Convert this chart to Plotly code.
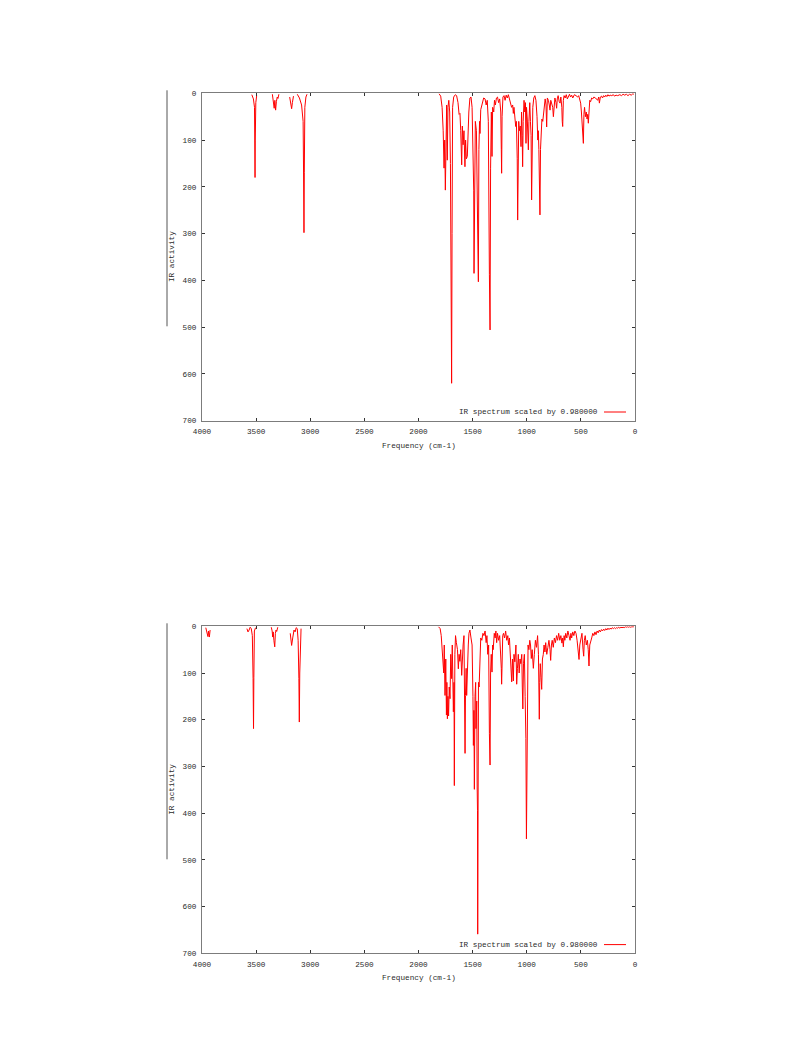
import plotly.graph_objects as go

# ---------------- data ----------------
# None marks stretches where the spectrum lies on the top border (no signal).
freq_top = [4000, 3560, 3540, 3525, 3515, 3512, 3510, 3508, 3503, 3495, 3485,
            3405, 3400, 3395,
            3350, 3340, 3333, 3327, 3320, 3313, 3305, 3298, 3290, 3280,
            3200, 3190, 3180, 3172, 3165, 3155, 3140,
            3120, 3100, 3080, 3066, 3062, 3058, 3055, 3050, 3040, 3030, 3015,
            1830, 1810, 1795, 1782, 1772, 1764, 1758, 1752, 1746, 1740, 1734, 1728, 1720, 1712,
            1705, 1700, 1697, 1694, 1690, 1685, 1675, 1660, 1648, 1635, 1625, 1617, 1610, 1601,
            1595, 1588, 1580, 1571, 1565, 1558, 1549, 1543, 1535, 1525, 1515, 1505, 1495, 1490,
            1487, 1482, 1475, 1465, 1458, 1452, 1447, 1442, 1436, 1432, 1425, 1410, 1398, 1385,
            1375, 1365, 1355, 1345, 1339, 1334, 1327, 1321, 1315, 1305, 1298, 1290, 1280, 1270,
            1260, 1250, 1240, 1235, 1232, 1228, 1220, 1210, 1200, 1190, 1180, 1170, 1160, 1150,
            1140, 1130, 1124, 1118, 1110, 1102, 1096, 1088, 1084, 1080, 1074, 1068, 1060, 1053,
            1048, 1042, 1038, 1033, 1025, 1018, 1012, 1007, 1002, 995, 985, 980, 972, 966,
            960, 955, 950, 944, 935, 925, 915, 905, 898, 893, 888, 882, 878, 873,
            866, 860, 852, 845, 838, 830, 822, 816, 810, 800, 792, 785, 778, 770,
            760, 754, 748, 740, 730, 724, 718, 710, 700, 692, 685, 676, 672, 668,
            662, 655, 645, 635, 625, 615, 605, 595, 585, 575, 560, 545, 530, 520,
            510, 502, 495, 488, 482, 477, 472, 466, 458, 450, 443, 437, 431, 425,
            418, 410, 400, 390, 380, 365, 345, 335, 329, 320, 310, 300, 290, 280,
            270, 260, 250, 240, 230, 215, 200, 190, 175, 160, 140, 125, 110, 95,
            80, 65, 50, 35, 20, 10, 0]
ir_top = [None, None, 3, 12, 30, 115, 180, 100, 20, 5, None,
          None, 2, None,
          2, 25, 32, 15, 36, 18, 8, 11, 2, None,
          None, 8, 25, 33, 20, 6, None,
          2, 10, 25, 60, 164, 298, 170, 30, 8, 2, None,
          None, 1, 6, 30, 80, 160, 100, 207, 60, 25, 143, 30, 15, 40,
          150, 342, 470, 620, 300, 30, 8, 3, 5, 20, 45, 43, 80, 153,
          70, 110, 80, 157, 100, 140, 135, 80, 40, 10, 8, 30, 120, 207,
          385, 150, 60, 80, 200, 250, 403, 120, 60, 86, 35, 20, 10, 12,
          25, 15, 60, 388, 506, 160, 40, 135, 30, 40, 15, 25, 10, 8,
          20, 12, 40, 120, 171, 50, 8, 5, 15, 4, 10, 3, 12, 20,
          30, 25, 43, 30, 55, 71, 60, 140, 271, 100, 60, 80, 70, 114,
          40, 90, 157, 60, 15, 40, 20, 107, 30, 55, 121, 60, 20, 60,
          90, 228, 80, 30, 10, 5, 15, 50, 100, 80, 120, 200, 260, 120,
          70, 55, 60, 40, 30, 12, 25, 72, 10, 15, 25, 36, 15, 20,
          30, 50, 20, 10, 20, 32, 12, 5, 18, 21, 8, 30, 60, 71,
          15, 5, 10, 3, 12, 5, 2, 8, 4, 10, 3, 5, 8, 5,
          15, 21, 40, 60, 80, 107, 45, 30, 50, 40, 55, 45, 64, 30,
          15, 18, 10, 12, 8, 10, 15, 8, 21, 8, 6, 10, 5, 8,
          4, 7, 3, 6, 4, 5, 3, 6, 4, 5, 3, 5, 2, 4,
          2, 5, 2, 4, 1, 2, None]

freq_bottom = [4000, 3975, 3965, 3955, 3945, 3940, 3932, 3925, 3918,
               3600, 3585, 3575, 3565, 3555, 3545, 3535, 3528, 3524, 3521, 3516, 3505, 3495,
               3405, 3400, 3395,
               3360, 3352, 3347, 3342, 3336, 3328, 3322, 3316, 3310, 3300, 3290,
               3200, 3185, 3172, 3162, 3150, 3140, 3130, 3120, 3112, 3105, 3101, 3097, 3092, 3085, 3078,
               1830, 1815, 1800, 1790, 1780, 1772, 1767, 1762, 1755, 1748, 1742, 1738, 1733, 1728,
               1722, 1716, 1709, 1702, 1694, 1688, 1678, 1672, 1669, 1664, 1658, 1650, 1640, 1632,
               1625, 1618, 1610, 1601, 1595, 1588, 1580, 1574, 1570, 1566, 1560, 1555, 1548, 1540,
               1534, 1525, 1515, 1505, 1497, 1493, 1488, 1484, 1478, 1472, 1469, 1462, 1458, 1455,
               1453, 1450, 1446, 1440, 1432, 1425, 1415, 1405, 1395, 1385, 1375, 1368, 1360, 1352,
               1345, 1339, 1334, 1328, 1321, 1315, 1310, 1300, 1292, 1285, 1278, 1270, 1260, 1250,
               1240, 1235, 1232, 1228, 1222, 1215, 1205, 1195, 1185, 1175, 1168, 1160, 1150, 1139,
               1132, 1124, 1118, 1110, 1100, 1093, 1086, 1078, 1070, 1062, 1055, 1046, 1041, 1036,
               1030, 1022, 1015, 1008, 1003, 998, 994, 988, 980, 972, 965, 958, 950, 939,
               930, 920, 910, 900, 892, 886, 884, 880, 875, 868, 862, 855, 847, 840,
               832, 825, 815, 805, 795, 785, 779, 772, 765, 755, 745, 735, 725, 715,
               705, 695, 685, 675, 668, 662, 655, 648, 640, 630, 620, 610, 600, 592,
               585, 575, 565, 555, 545, 535, 525, 517, 510, 500, 490, 480, 474, 468,
               460, 450, 440, 432, 425, 418, 410, 400, 390, 380, 370, 360, 350, 340,
               330, 320, 310, 300, 290, 280, 270, 260, 250, 240, 230, 220, 210, 200,
               190, 180, 170, 160, 150, 140, 130, 120, 110, 100, 90, 80, 70, 60,
               50, 40, 30, 20, 10, 0]
ir_bottom = [None, None, 3, 12, 22, 10, 23, 8, None,
             None, 5, 12, 8, 2, 5, 20, 112, 219, 110, 10, 3, None,
             None, 2, None,
             2, 10, 23, 12, 30, 44, 15, 8, 11, 2, None,
             None, 15, 41, 25, 8, 12, 3, 5, 30, 112, 205, 100, 20, 5, None,
             None, 1, 5, 20, 60, 76, 100, 40, 148, 70, 190, 120, 198, 150,
             192, 130, 155, 60, 112, 40, 183, 120, 341, 60, 20, 35, 50, 91,
             60, 75, 50, 105, 60, 40, 20, 120, 272, 148, 90, 148, 76, 40,
             15, 8, 25, 40, 150, 255, 180, 349, 150, 120, 219, 160, 344, 395,
             659, 200, 120, 130, 60, 25, 30, 15, 20, 10, 35, 20, 60, 40,
             230, 297, 100, 60, 98, 40, 50, 15, 25, 10, 35, 15, 30, 20,
             60, 90, 124, 60, 20, 15, 25, 10, 30, 20, 40, 25, 60, 119,
             70, 117, 60, 76, 40, 124, 90, 60, 100, 70, 80, 60, 130, 177,
             80, 60, 150, 240, 455, 200, 80, 40, 50, 30, 40, 69, 50, 90,
             60, 30, 45, 20, 60, 150, 199, 120, 80, 110, 135, 70, 60, 40,
             55, 35, 60, 45, 30, 50, 73, 40, 30, 45, 25, 35, 20, 30,
             15, 30, 20, 36, 25, 44, 20, 30, 15, 25, 10, 20, 30, 15,
             25, 12, 20, 10, 15, 30, 55, 71, 40, 25, 15, 50, 64, 30,
             20, 40, 30, 50, 85, 40, 30, 25, 15, 20, 12, 18, 10, 14,
             8, 12, 7, 10, 6, 9, 5, 8, 4, 7, 4, 6, 3, 5,
             3, 5, 3, 4, 2, 4, 2, 3, 2, 3, 1, 2, 1, 2,
             1, 2, 1, 1, 1, None]

x_ticks = [4000, 3500, 3000, 2500, 2000, 1500, 1000, 500, 0]
y_ticks = [0, 100, 200, 300, 400, 500, 600, 700]
legend_label = "IR spectrum scaled by 0.980000"
x_title = "Frequency (cm-1)"
y_title = "IR activity"

# ---------------- layout (screen-pixel geometry) ----------------
PAGE_W, PAGE_H = 793, 1057
OFF = 8                            # default body margin of the html page
W, H = PAGE_W - 2 * OFF, PAGE_H - 2 * OFF
PL, PR = 202, 635                  # plot left / right (screen px)
panels = [(93.3, 420.7), (626.3, 953.3)]   # (top, bottom) screen px per panel
FONT = dict(family="Liberation Mono, DejaVu Sans Mono, monospace", size=7.7, color="#2a2a2a")
BORDER = "#7c7c7c"


def px(x):
    return (x - OFF) / W


def py(y):
    return 1 - (y - OFF) / H


fig = go.Figure()
series = [(freq_top, ir_top), (freq_bottom, ir_bottom)]
for i, ((xs, ys), (top, bot)) in enumerate(zip(series, panels)):
    n = "" if i == 0 else str(i + 1)
    fig.add_trace(go.Scatter(x=xs, y=ys, mode="lines", connectgaps=False,
                             line=dict(color="rgb(255,0,0)", width=1),
                             xaxis="x" + n, yaxis="y" + n,
                             name=legend_label, showlegend=False,
                             hoverinfo="skip"))
    common = dict(showline=True, linecolor=BORDER, linewidth=1, mirror="ticks",
                  ticks="inside", ticklen=3, tickcolor="#333333", tickwidth=1,
                  showgrid=False, zeroline=False, tickfont=FONT, fixedrange=True,
                  automargin=False)
    fig.update_layout(**{
        "xaxis" + n: dict(domain=[px(PL), px(PR)], range=[4000, 0],
                          tickmode="array", tickvals=x_ticks,
                          anchor="y" + n, ticklabelstandoff=3, **common),
        "yaxis" + n: dict(domain=[py(bot), py(top)], range=[700, 0],
                          tickmode="array", tickvals=y_ticks,
                          anchor="x" + n, ticklabelstandoff=3, **common),
    })
    fig.add_annotation(xref="paper", yref="paper", x=px((PL + PR) / 2), y=py(bot + 25),
                       text=x_title, showarrow=False, font=FONT,
                       xanchor="center", yanchor="middle")
    fig.add_annotation(xref="paper", yref="paper", x=px(172), y=py((top + bot) / 2),
                       text=y_title, showarrow=False, font=FONT, textangle=-90,
                       xanchor="center", yanchor="middle")
    fig.add_annotation(xref="paper", yref="paper", x=px(600), y=py(bot - 8.7),
                       text=legend_label, showarrow=False, font=FONT,
                       xanchor="right", yanchor="middle")
    fig.add_shape(type="line", xref="paper", yref="paper",
                  x0=px(604), x1=px(626), y0=py(bot - 8.7), y1=py(bot - 8.7),
                  line=dict(color="rgb(255,0,0)", width=1))
    fig.add_shape(type="line", xref="paper", yref="paper",
                  x0=px(167), x1=px(167), y0=py(top - 3), y1=py(top + 233),
                  line=dict(color="#555555", width=1))

fig.update_layout(template="none", width=W, height=H,
                  margin=dict(l=0, r=0, t=0, b=0, autoexpand=False),
                  paper_bgcolor="white", plot_bgcolor="white", showlegend=False)

fig.write_html("out.html")
